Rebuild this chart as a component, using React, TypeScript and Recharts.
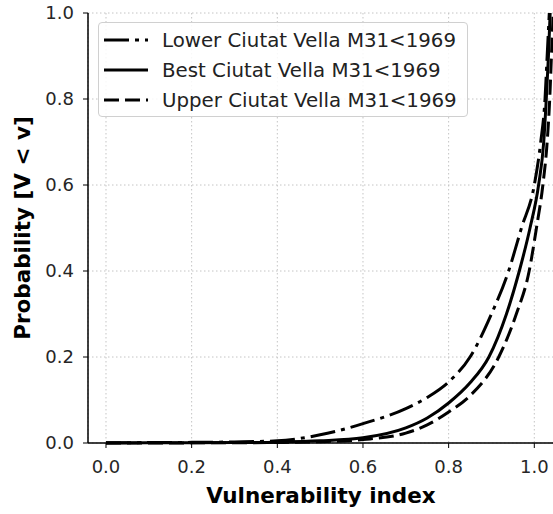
import { LineChart, Line, XAxis, YAxis, CartesianGrid } from 'recharts'

const xTicks = [0, 0.2, 0.4, 0.6, 0.8, 1.0]
const yTicks = [0, 0.2, 0.4, 0.6, 0.8, 1.0]

const lowerX = [0, 0.1, 0.2, 0.3, 0.4, 0.5, 0.6, 0.7, 0.75, 0.8, 0.85, 0.9, 0.94, 0.97, 1.0, 1.015, 1.025, 1.03, 1.035]
const lowerY = [0.0005, 0.001, 0.0015, 0.0025, 0.005, 0.019, 0.045, 0.08, 0.106, 0.142, 0.2, 0.3, 0.4, 0.5, 0.6, 0.7, 0.8, 0.9, 1.0]

const bestX = [0, 0.1, 0.2, 0.3, 0.4, 0.5, 0.6, 0.7, 0.75, 0.8, 0.85, 0.894, 0.935, 0.965, 0.99, 1.01, 1.022, 1.028, 1.033, 1.037]
const bestY = [0.0002, 0.0003, 0.0005, 0.001, 0.002, 0.005, 0.012, 0.035, 0.058, 0.093, 0.14, 0.2, 0.3, 0.4, 0.5, 0.6, 0.7, 0.8, 0.9, 1.0]

const upperX = [0, 0.1, 0.2, 0.3, 0.4, 0.5, 0.6, 0.7, 0.75, 0.8, 0.85, 0.917, 0.958, 0.988, 1.005, 1.02, 1.03, 1.036, 1.04, 1.044]
const upperY = [0.0001, 0.0002, 0.0003, 0.0006, 0.0012, 0.003, 0.008, 0.023, 0.042, 0.072, 0.11, 0.2, 0.3, 0.4, 0.5, 0.6, 0.7, 0.8, 0.9, 1.0]

const seriesNames = ['Lower Ciutat Vella M31<1969', 'Best Ciutat Vella M31<1969', 'Upper Ciutat Vella M31<1969']

const toPoints = (xs: number[], ys: number[]) => xs.map((x, i) => ({ x, y: ys[i] }))

const lowerData = toPoints(lowerX, lowerY)
const bestData = toPoints(bestX, bestY)
const upperData = toPoints(upperX, upperY)

const font = '"DejaVu Sans", sans-serif'
const dashes = ['25 6 4 6', undefined, '15 6']

// matplotlib-style legend box in the upper left of the plot
function LegendBox() {
  return (
    <div
      style={{
        position: 'absolute',
        left: 98,
        top: 22,
        width: 370,
        height: 95,
        boxSizing: 'border-box',
        border: '1px solid #d0d0d0',
        borderRadius: 4,
        background: 'rgba(255,255,255,0.85)',
        fontFamily: font,
        fontSize: 19.8,
        color: '#222',
      }}
    >
      {seriesNames.map((name, i) => (
        <div key={name} style={{ position: 'absolute', left: 0, top: 4 + i * 30, height: 26, display: 'flex', alignItems: 'center' }}>
          <svg width={60} height={26}>
            <line x1={5} x2={49} y1={13} y2={13} stroke="#000" strokeWidth={3} strokeDasharray={dashes[i]} />
          </svg>
          <span style={{ marginLeft: 3, whiteSpace: 'nowrap' }}>{name}</span>
        </div>
      ))}
    </div>
  )
}

export default function App() {
  return (
    <div style={{ position: 'absolute', left: 0, top: 0, width: 553, height: 514, overflow: 'hidden', background: '#fff' }}>
      <LineChart width={580} height={514} margin={{ top: 13, right: 20, bottom: 0, left: 0 }}>
        <CartesianGrid stroke="#c4c4c4" strokeDasharray="1.5 2.5" />
        <XAxis
          dataKey="x"
          type="number"
          domain={[-0.042, 1.06]}
          ticks={xTicks}
          allowDataOverflow
          tickFormatter={(v: number) => v.toFixed(1)}
          height={71}
          axisLine={{ stroke: '#000', strokeWidth: 1.5 }}
          tickLine={{ stroke: '#000' }}
          tickSize={5}
          tickMargin={12}
          tick={{ fill: '#262626', fontSize: 18, fontFamily: font }}
          label={{ value: 'Vulnerability index', position: 'center', dx: -3, dy: 17, style: { fontWeight: 'bold', fontSize: 21.5, fontFamily: font, fill: '#000' } }}
        />
        <XAxis xAxisId="top" orientation="top" type="number" domain={[-0.042, 1.06]} tick={false} tickLine={false} height={0} axisLine={{ stroke: '#333', strokeWidth: 1.5 }} />
        <YAxis
          type="number"
          domain={[0, 1]}
          ticks={yTicks}
          tickFormatter={(v: number) => v.toFixed(1)}
          width={88}
          axisLine={{ stroke: '#000', strokeWidth: 1.5 }}
          tickLine={{ stroke: '#000' }}
          tickSize={5}
          tickMargin={9}
          tick={{ fill: '#262626', fontSize: 18, fontFamily: font }}
          label={{ value: 'Probability [V < v]', angle: -90, position: 'center', dx: -22, style: { fontWeight: 'bold', fontSize: 21.5, fontFamily: font, fill: '#000', textAnchor: 'middle' } }}
        />
        <Line data={lowerData} dataKey="y" name={seriesNames[0]} type="monotone" stroke="#000" strokeWidth={3} strokeDasharray={dashes[0]} dot={false} isAnimationActive={false} />
        <Line data={bestData} dataKey="y" name={seriesNames[1]} type="monotone" stroke="#000" strokeWidth={3} dot={false} isAnimationActive={false} />
        <Line data={upperData} dataKey="y" name={seriesNames[2]} type="monotone" stroke="#000" strokeWidth={3} strokeDasharray={dashes[2]} dot={false} isAnimationActive={false} />
      </LineChart>
      <LegendBox />
    </div>
  )
}
